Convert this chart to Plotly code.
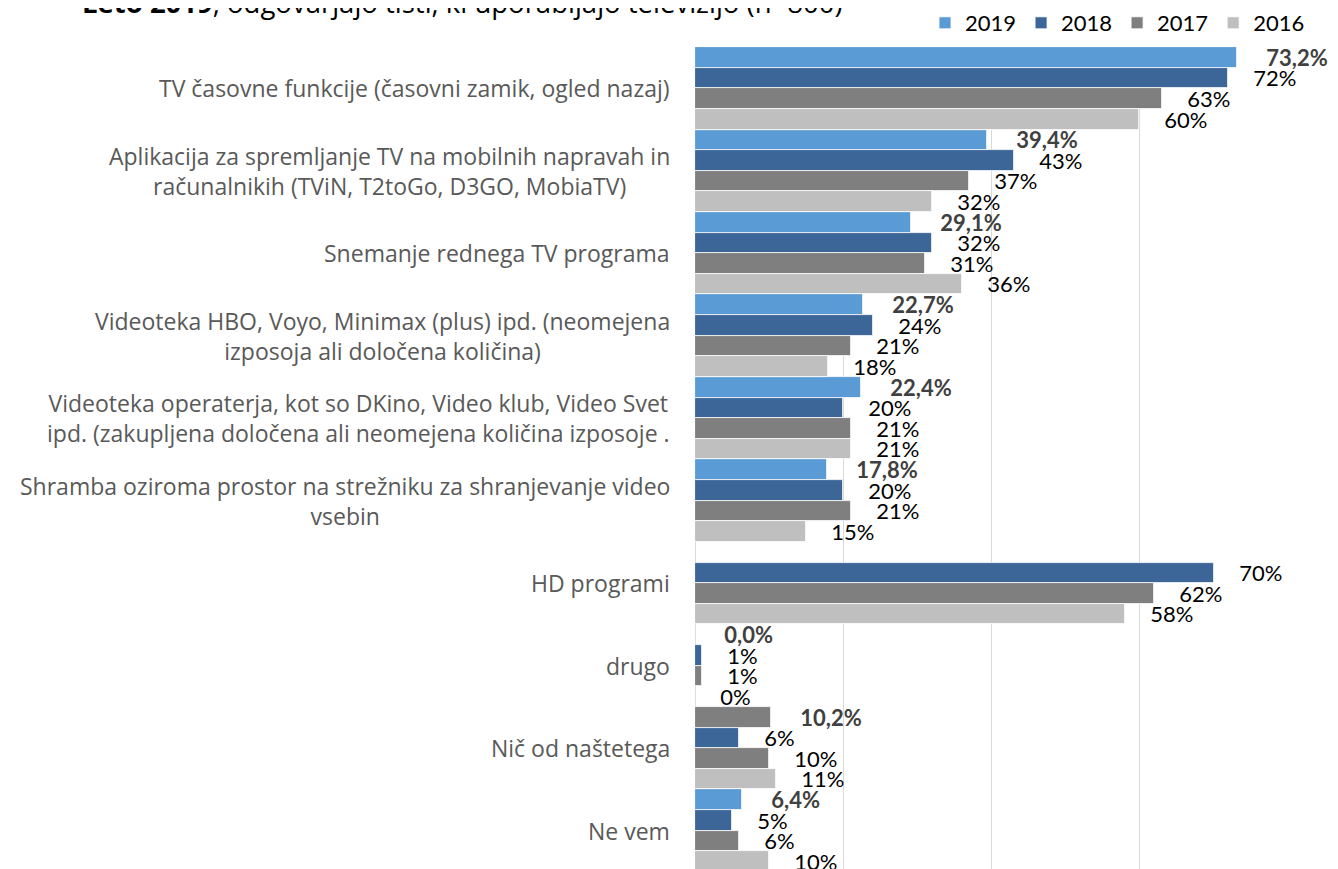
import plotly.graph_objects as go

categories = [
    "TV časovne funkcije (časovni zamik, ogled nazaj)",
    "Aplikacija za spremljanje TV na mobilnih napravah in<br>računalnikih (TViN, T2toGo, D3GO, MobiaTV)",
    "Snemanje rednega TV programa",
    "Videoteka HBO, Voyo, Minimax (plus) ipd. (neomejena<br>izposoja ali določena količina)",
    "Videoteka operaterja, kot so DKino, Video klub, Video Svet<br>ipd. (zakupljena določena ali neomejena količina izposoje .",
    "Shramba oziroma prostor na strežniku za shranjevanje video<br>vsebin",
    "HD programi",
    "drugo",
    "Nič od naštetega",
    "Ne vem",
]
series_names = ["2019", "2018", "2017", "2016"]
v2019 = [73.2, 39.4, 29.1, 22.7, 22.4, 17.8, None, 0.0, 10.2, 6.4]
v2018 = [72, 43, 32, 24, 20, 20, 70, 1, 6, 5]
v2017 = [63, 37, 31, 21, 21, 21, 62, 1, 10, 6]
v2016 = [60, 32, 36, 18, 21, 15, 58, 0, 11, 10]
values = [v2019, v2018, v2017, v2016]

colors = ["#5B9BD5", "#3C6698", "#7F7F7F", "#BFBFBF"]
# the 2019 bar of "Nič od naštetega" is drawn grey in the original
colors_2019 = ["#5B9BD5"] * len(categories)
colors_2019[8] = "#7F7F7F"

NUMFONT = "Lato, 'Open Sans', sans-serif"
TXTFONT = "'Open Sans', Lato, sans-serif"
NB = "\u00a0"

# page is rendered with an 8px body margin, so the figure is made 8px smaller
W, H = 1330, 861
PL, PT, PR = 687, 39, 1280

fig = go.Figure()
for i, (name, vals) in enumerate(zip(series_names, values)):
    if i == 0:
        texts = [None if v is None else NB * 5 + f"{v:.1f}".replace(".", ",") + "%" for v in vals]
        tf = dict(family=NUMFONT, size=22, color="#404040", weight="bold")
        mc = colors_2019
    else:
        texts = [None if v is None else NB * 4 + f"{v:.0f}%" for v in vals]
        tf = dict(family=NUMFONT, size=22, color="#000000")
        mc = colors[i]
    fig.add_trace(go.Bar(
        name=name, y=categories, x=vals, orientation="h",
        marker=dict(color=mc, line=dict(color="white", width=0.8)),
        text=texts, textposition="outside", textfont=tf,
        constraintext="none", cliponaxis=False, hoverinfo="skip",
    ))

for cat in categories:
    fig.add_annotation(
        x=0, y=cat, xref="x", yref="y", text=cat, showarrow=False,
        xanchor="right", yanchor="middle", xshift=-23, align="center",
        font=dict(family=TXTFONT, size=23, color="#595959"),
    )

fig.add_annotation(
    xref="paper", yref="paper", x=(72 - PL) / (PR - PL), y=1, xanchor="left", yanchor="bottom",
    yshift=24, showarrow=False,
    text="<b>Leto 2019</b>, odgovarjajo tisti, ki uporabljajo televizijo (n=800)",
    font=dict(family=TXTFONT, size=27.5, color="#000000"),
)

fig.update_layout(
    width=W, height=H,
    margin=dict(l=PL, r=W - PR, t=PT, b=0, autoexpand=False),
    barmode="group", bargap=0, bargroupgap=0,
    plot_bgcolor="white", paper_bgcolor="white",
    showlegend=True,
    legend=dict(orientation="h", xref="container", yref="paper",
                x=1302 / W, xanchor="right", y=1 + 45 / (H - PT), yanchor="top",
                font=dict(family=NUMFONT, size=22, color="#000000"),
                itemwidth=30, tracegroupgap=0, bgcolor="rgba(0,0,0,0)"),
    xaxis=dict(range=[0, 80.05], dtick=20, showgrid=True, gridcolor="#D9D9D9", gridwidth=1,
               zeroline=True, zerolinecolor="#D9D9D9", zerolinewidth=1,
               showticklabels=False, ticks=""),
    yaxis=dict(categoryorder="array", categoryarray=categories,
               range=[len(categories) - 0.536, -0.5], showticklabels=False, ticks="",
               showgrid=False),
)

fig.write_html("out.html")
